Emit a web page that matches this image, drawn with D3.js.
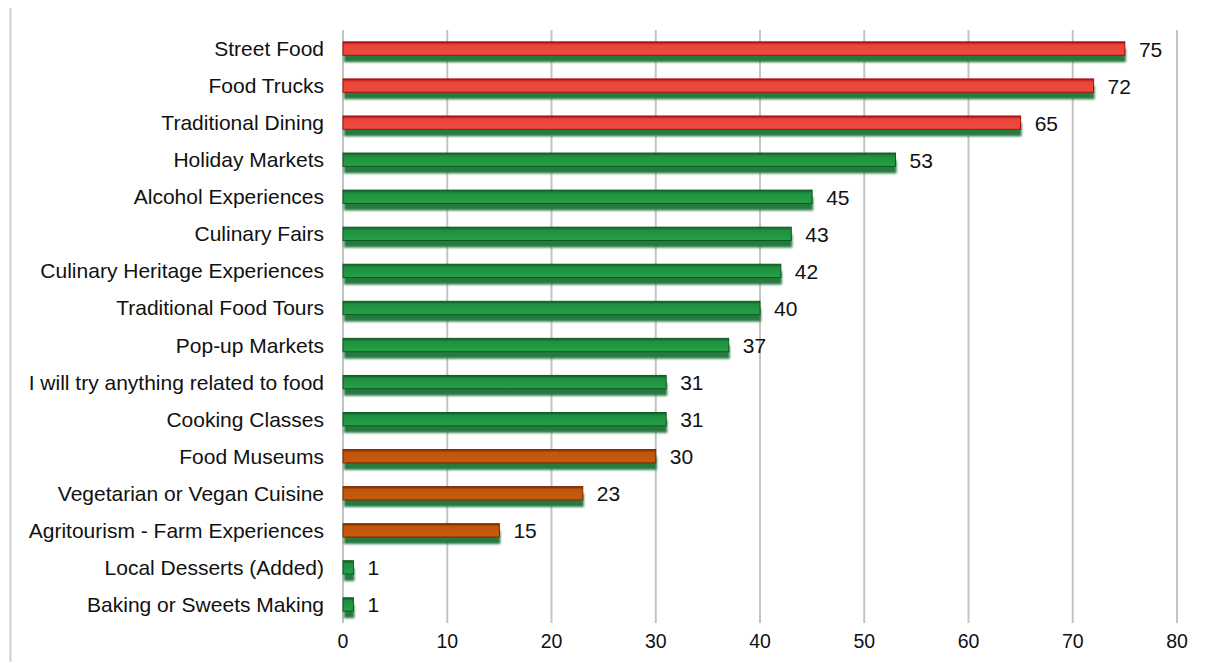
<!DOCTYPE html>
<html>
<head>
<script src="https://cdn.jsdelivr.net/npm/d3@7"></script>
<style>
  body { margin: 0; background: #fff; }
  text { font-family: "Liberation Sans", Arial, sans-serif; fill: #111; }
</style>
</head>
<body>
<div id="viz"></div>
<script>
var categories = ["Street Food", "Food Trucks", "Traditional Dining", "Holiday Markets",
  "Alcohol Experiences", "Culinary Fairs", "Culinary Heritage Experiences",
  "Traditional Food Tours", "Pop-up Markets", "I will try anything related to food",
  "Cooking Classes", "Food Museums", "Vegetarian or Vegan Cuisine",
  "Agritourism - Farm Experiences", "Local Desserts (Added)", "Baking or Sweets Making"];
var values = [75, 72, 65, 53, 45, 43, 42, 40, 37, 31, 31, 30, 23, 15, 1, 1];
// colour group of each bar: r = red, o = orange, g = green
var groups = ["r", "r", "r", "g", "g", "g", "g", "g", "g", "g", "g", "o", "o", "o", "g", "g"];
var xTicks = [0, 10, 20, 30, 40, 50, 60, 70, 80];

var W = 1214, H = 662;
var m = {left: 343, right: 37, top: 30, bottom: 39};

var svg = d3.select("#viz").append("svg").attr("width", W).attr("height", H);

var defs = svg.append("defs");
defs.append("filter").attr("id", "blur")
  .attr("x", "-10%").attr("y", "-50%").attr("width", "120%").attr("height", "200%")
  .append("feGaussianBlur").attr("stdDeviation", 1.3);

var fills = {r: ["#a80c0c", "#e8453a", "#f04a3e"], o: ["#7a2a00", "#c2560c", "#c85a10"], g: ["#0d5a22", "#1f8f3f", "#26a046"]};
Object.keys(fills).forEach(function (k) {
  var g = defs.append("linearGradient").attr("id", "grad-" + k)
    .attr("x1", 0).attr("y1", 0).attr("x2", 0).attr("y2", 1);
  g.append("stop").attr("offset", "0%").attr("stop-color", fills[k][0]);
  g.append("stop").attr("offset", "22%").attr("stop-color", fills[k][1]);
  g.append("stop").attr("offset", "100%").attr("stop-color", fills[k][2]);
});

var x = d3.scaleLinear().domain([0, 80]).range([m.left, W - m.right]);
var y = d3.scaleBand().domain(categories).range([m.top, H - m.bottom]).paddingInner(0.64).paddingOuter(0.32);

// frame edge on the left
svg.append("line").attr("x1", 10.5).attr("x2", 10.5).attr("y1", 8).attr("y2", H)
  .attr("stroke", "#cfcfcf").attr("stroke-width", 2);

// grid
svg.append("g").selectAll("line").data(xTicks).enter().append("line")
  .attr("x1", function (d) { return x(d); }).attr("x2", function (d) { return x(d); })
  .attr("y1", m.top).attr("y2", H - m.bottom)
  .attr("stroke", "#c4c4c4").attr("stroke-width", 2);

// x tick labels
svg.append("g").selectAll("text").data(xTicks).enter().append("text")
  .attr("x", function (d) { return x(d); }).attr("y", 648)
  .attr("text-anchor", "middle").style("font-size", "19.5px")
  .text(function (d) { return d; });

// category labels
svg.append("g").selectAll("text").data(categories).enter().append("text")
  .attr("x", 324).attr("y", function (d) { return y(d) + y.bandwidth() / 2 + 7.5; })
  .attr("text-anchor", "end").style("font-size", "21px")
  .text(function (d) { return d; });

var bars = svg.append("g");
// green shadows
bars.selectAll("rect.shadow").data(values).enter().append("rect")
  .attr("class", "shadow")
  .attr("x", x(0) + 1)
  .attr("y", function (d, i) { return y(categories[i]) + 7; })
  .attr("width", function (d) { return x(d) - x(0); })
  .attr("height", y.bandwidth())
  .attr("fill", "#257a40")
  .attr("filter", "url(#blur)");

bars.selectAll("rect.bar").data(values).enter().append("rect")
  .attr("class", "bar")
  .attr("x", x(0))
  .attr("y", function (d, i) { return y(categories[i]); })
  .attr("width", function (d) { return x(d) - x(0); })
  .attr("height", y.bandwidth())
  .attr("fill", function (d, i) { return "url(#grad-" + groups[i] + ")"; })
  .attr("stroke", function (d, i) { return fills[groups[i]][0]; })
  .attr("stroke-width", 1);

// value labels
svg.append("g").selectAll("text").data(values).enter().append("text")
  .attr("x", function (d) { return x(d) + 14; })
  .attr("y", function (d, i) { return y(categories[i]) + y.bandwidth() / 2 + 8; })
  .style("font-size", "21px")
  .text(function (d) { return d; });
</script>
</body>
</html>
